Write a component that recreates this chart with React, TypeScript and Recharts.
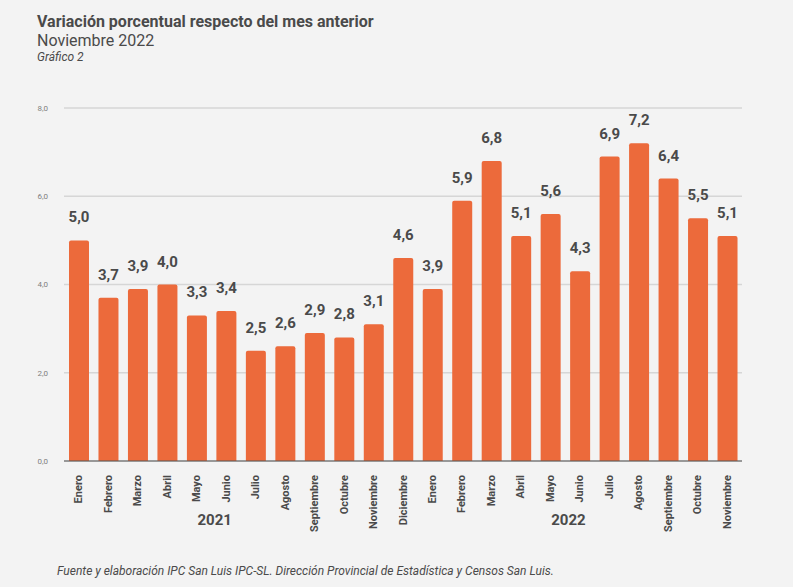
import React from 'react';
import { BarChart, Bar, XAxis, YAxis, CartesianGrid, LabelList } from 'recharts';

const months = [
  'Enero', 'Febrero', 'Marzo', 'Abril', 'Mayo', 'Junio', 'Julio', 'Agosto', 'Septiembre', 'Octubre', 'Noviembre', 'Diciembre',
  'Enero', 'Febrero', 'Marzo', 'Abril', 'Mayo', 'Junio', 'Julio', 'Agosto', 'Septiembre', 'Octubre', 'Noviembre',
];
const years = [
  '2021', '2021', '2021', '2021', '2021', '2021', '2021', '2021', '2021', '2021', '2021', '2021',
  '2022', '2022', '2022', '2022', '2022', '2022', '2022', '2022', '2022', '2022', '2022',
];
const values = [5.0, 3.7, 3.9, 4.0, 3.3, 3.4, 2.5, 2.6, 2.9, 2.8, 3.1, 4.6, 3.9, 5.9, 6.8, 5.1, 5.6, 4.3, 6.9, 7.2, 6.4, 5.5, 5.1];
// index of the month under which each year label sits
const yearLabelIndex = [4, 16];
const yTicks = [0, 2, 4, 6, 8];

const data = months.map((m, i) => ({ id: i, month: m, year: years[i], value: values[i] }));

const fmt = (v: number) => v.toFixed(1).replace('.', ',');
const FONT = 'Roboto, "Noto Sans", sans-serif';

function MonthTick({ x, y, payload, index }: any) {
  const i = payload?.index ?? index;
  const row = data[i];
  const showYear = yearLabelIndex.includes(i);
  return (
    <g>
      <text
        x={x}
        y={y + 6}
        transform={`rotate(-90, ${x}, ${y + 6})`}
        textAnchor="end"
        dominantBaseline="central"
        fontFamily={FONT}
        fontSize={11}
        fontWeight={700}
        fill="#4a4a4a"
      >
        {row?.month}
      </text>
      {showYear && (
        <text
          x={x + 18}
          y={y + 56}
          textAnchor="middle"
          fontFamily={FONT}
          fontSize={15}
          fontWeight={700}
          fill="#4a4a4a"
        >
          {row?.year}
        </text>
      )}
    </g>
  );
}

export default function App() {
  return (
    <div style={{ position: 'absolute', left: 0, top: 0, width: 793, height: 587, background: '#f3f3f3', fontFamily: FONT }}>
      <div style={{ position: 'absolute', left: 37, top: 12, color: '#4a4a4a', lineHeight: '19px' }}>
        <div style={{ fontSize: 16, fontWeight: 700 }}>Variación porcentual respecto del mes anterior</div>
        <div style={{ fontSize: 16 }}>Noviembre 2022</div>
        <div style={{ fontSize: 12, fontStyle: 'italic', lineHeight: '15px' }}>Gráfico 2</div>
      </div>
      <BarChart
        width={793}
        height={587}
        data={data}
        margin={{ top: 108, right: 51, left: 0, bottom: 0 }}
        barSize={20}
      >
        <CartesianGrid vertical={false} stroke="#d6d6d6" strokeWidth={1.5} />
        <YAxis
          width={64}
          domain={[0, 8]}
          ticks={yTicks}
          tickFormatter={fmt}
          axisLine={false}
          tickLine={false}
          tickMargin={10}
          tick={{ fontSize: 8, fill: '#808080', fontFamily: FONT }}
        />
        <XAxis
          dataKey="id"
          height={126}
          interval={0}
          tickLine={false}
          axisLine={{ stroke: '#555', strokeWidth: 1.2 }}
          tick={<MonthTick />}
        />
        <Bar dataKey="value" fill="#ec6a3b" radius={[2, 2, 0, 0]} isAnimationActive={false}>
          <LabelList
            dataKey="value"
            position="top"
            offset={18}
            formatter={(v: any) => fmt(Number(v))}
            style={{ fontSize: 15, fontWeight: 700, fill: '#4a4a4a', fontFamily: FONT }}
          />
        </Bar>
      </BarChart>
      <div style={{ position: 'absolute', left: 57, top: 564, fontSize: 12, fontStyle: 'italic', color: '#4a4a4a' }}>
        Fuente y elaboración IPC San Luis IPC-SL. Dirección Provincial de Estadística y Censos San Luis.
      </div>
    </div>
  );
}
